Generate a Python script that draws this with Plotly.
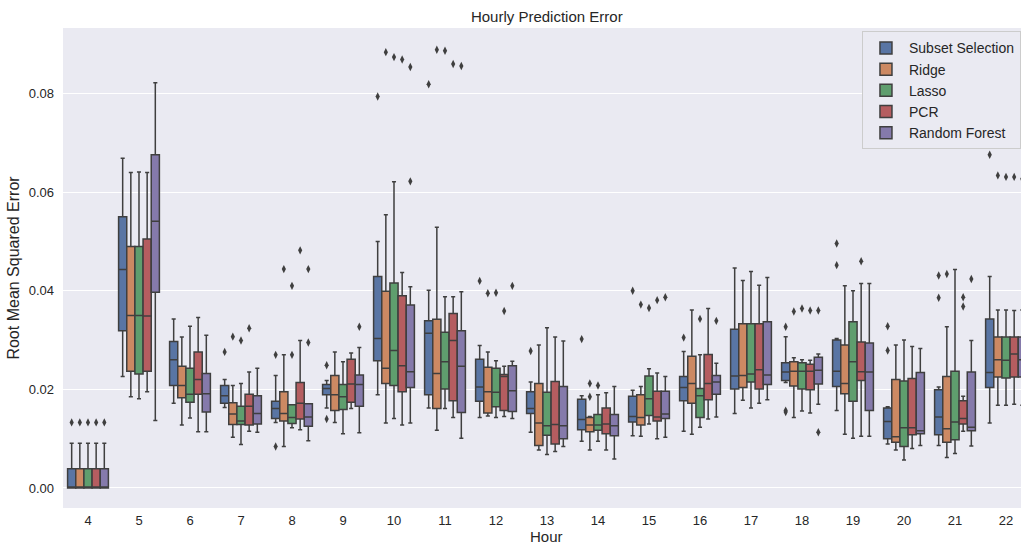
import plotly.graph_objects as go

hours = list(range(4, 23))
models = ["Subset Selection", "Ridge", "Lasso", "PCR", "Random Forest"]
colors = ["#5975A4", "#CC8963", "#5F9E6E", "#B55D60", "#857AAB"]

# per model, per hour: [lower whisker, q1, median, q3, upper whisker]
subset_stats = [
    [0, 0, 0, 0.0039, 0.00905], [0.0226, 0.0319, 0.0443, 0.0550, 0.0669],
    [0.0172, 0.0208, 0.0260, 0.0297, 0.0343], [0.0163, 0.0172, 0.0187, 0.0208, 0.0220],
    [0.0133, 0.0141, 0.0161, 0.0176, 0.0228], [0.0162, 0.0189, 0.0202, 0.0210, 0.0218],
    [0.0189, 0.0258, 0.0303, 0.0429, 0.0500], [0.0162, 0.0189, 0.0314, 0.0339, 0.0401],
    [0.0143, 0.0176, 0.0205, 0.0261, 0.0289], [0.0113, 0.0151, 0.0161, 0.0195, 0.0215],
    [0.0095, 0.0118, 0.0139, 0.0180, 0.0187], [0.0106, 0.0134, 0.0145, 0.0186, 0.0198],
    [0.0115, 0.0177, 0.0204, 0.0226, 0.0277], [0.0151, 0.0201, 0.0227, 0.0322, 0.0446],
    [0.0214, 0.0218, 0.0235, 0.0254, 0.0307], [0.0157, 0.0206, 0.0237, 0.0300, 0.0303],
    [0.0089, 0.0100, 0.0135, 0.0162, 0.0165], [0.0086, 0.0108, 0.0144, 0.0199, 0.0205],
    [0.0132, 0.0204, 0.0234, 0.0343, 0.0429],
]
ridge_stats = [
    [0, 0, 0, 0.0039, 0.00905], [0.0185, 0.0237, 0.0350, 0.0490, 0.0640],
    [0.0128, 0.0183, 0.0208, 0.0247, 0.0306], [0.0103, 0.0129, 0.0150, 0.0173, 0.0208],
    [0.0084, 0.0136, 0.0151, 0.0195, 0.0270], [0.0133, 0.0157, 0.0189, 0.0228, 0.0276],
    [0.0132, 0.0212, 0.0243, 0.0399, 0.0554], [0.0117, 0.0161, 0.0232, 0.0342, 0.0529],
    [0.0146, 0.0152, 0.0195, 0.0245, 0.0276], [0.0077, 0.0086, 0.0132, 0.0212, 0.0290],
    [0.0077, 0.0114, 0.0128, 0.0143, 0.0145], [0.0105, 0.0128, 0.0143, 0.0189, 0.0206],
    [0.0109, 0.0172, 0.0212, 0.0267, 0.0361], [0.0178, 0.0204, 0.0228, 0.0333, 0.0421],
    [0.0143, 0.0207, 0.0237, 0.0256, 0.0264], [0.0109, 0.0191, 0.0212, 0.0290, 0.0410],
    [0.0077, 0.0093, 0.0104, 0.0220, 0.0290], [0.0062, 0.0093, 0.0120, 0.0226, 0.0327],
    [0.0168, 0.0225, 0.0260, 0.0306, 0.0361],
]
lasso_stats = [
    [0, 0, 0, 0.0039, 0.00905], [0.0181, 0.0231, 0.0350, 0.0490, 0.0641],
    [0.0142, 0.0174, 0.0190, 0.0243, 0.0328], [0.0088, 0.0129, 0.0136, 0.0166, 0.0212],
    [0.0122, 0.0131, 0.0143, 0.0169, 0.0169], [0.0110, 0.0159, 0.0185, 0.0210, 0.0256],
    [0.0141, 0.0208, 0.0279, 0.0416, 0.0621], [0.0161, 0.0201, 0.0256, 0.0316, 0.0388],
    [0.0143, 0.0165, 0.0194, 0.0243, 0.0258], [0.0068, 0.0107, 0.0126, 0.0194, 0.0325],
    [0.0095, 0.0117, 0.0128, 0.0149, 0.0189], [0.0130, 0.0147, 0.0181, 0.0227, 0.0242],
    [0.0123, 0.0143, 0.0187, 0.0202, 0.0270], [0.0162, 0.0215, 0.0231, 0.0333, 0.0439],
    [0.0156, 0.0201, 0.0237, 0.0254, 0.0260], [0.0101, 0.0176, 0.0256, 0.0337, 0.0400],
    [0.0057, 0.0084, 0.0122, 0.0217, 0.0300], [0.0070, 0.0098, 0.0134, 0.0237, 0.0443],
    [0.0168, 0.0223, 0.0259, 0.0306, 0.0361],
]
pcr_stats = [
    [0, 0, 0, 0.0039, 0.00905], [0.0195, 0.0237, 0.0349, 0.0505, 0.0640],
    [0.0114, 0.0190, 0.0220, 0.0276, 0.0346], [0.0115, 0.0128, 0.0166, 0.0190, 0.0235],
    [0.0118, 0.0140, 0.0172, 0.0214, 0.0299], [0.0161, 0.0174, 0.0211, 0.0261, 0.0274],
    [0.0128, 0.0195, 0.0248, 0.0390, 0.0437], [0.0143, 0.0177, 0.0299, 0.0354, 0.0388],
    [0.0145, 0.0157, 0.0226, 0.0230, 0.0247], [0.0074, 0.0089, 0.0129, 0.0216, 0.0306],
    [0.0077, 0.0110, 0.0130, 0.0162, 0.0193], [0.0100, 0.0136, 0.0144, 0.0196, 0.0233],
    [0.0140, 0.0179, 0.0212, 0.0271, 0.0364], [0.0172, 0.0201, 0.0240, 0.0333, 0.0411],
    [0.0152, 0.0199, 0.0237, 0.0251, 0.0259], [0.0105, 0.0218, 0.0236, 0.0296, 0.0415],
    [0.0080, 0.0108, 0.0122, 0.0222, 0.0287], [0.0115, 0.0130, 0.0141, 0.0177, 0.0186],
    [0.0170, 0.0225, 0.0272, 0.0306, 0.0360],
]
rf_stats = [
    [0, 0, 0.0002, 0.0039, 0.00905], [0.0137, 0.0397, 0.0541, 0.0676, 0.0822],
    [0.0114, 0.0154, 0.0191, 0.0232, 0.0310], [0.0113, 0.0130, 0.0151, 0.0187, 0.0243],
    [0.0096, 0.0125, 0.0144, 0.0171, 0.0171], [0.0112, 0.0166, 0.0210, 0.0229, 0.0285],
    [0.0132, 0.0204, 0.0236, 0.0371, 0.0408], [0.0101, 0.0153, 0.0247, 0.0319, 0.0398],
    [0.0141, 0.0155, 0.0197, 0.0248, 0.0257], [0.0084, 0.0100, 0.0126, 0.0206, 0.0298],
    [0.0059, 0.0106, 0.0126, 0.0149, 0.0206], [0.0103, 0.0141, 0.0150, 0.0196, 0.0226],
    [0.0144, 0.0190, 0.0215, 0.0228, 0.0253], [0.0179, 0.0210, 0.0229, 0.0337, 0.0427],
    [0.0170, 0.0211, 0.0239, 0.0265, 0.0272], [0.0105, 0.0157, 0.0235, 0.0294, 0.0415],
    [0.0086, 0.0110, 0.0116, 0.0234, 0.0283], [0.0085, 0.0116, 0.0123, 0.0235, 0.0299],
    [0.0168, 0.0225, 0.0260, 0.0306, 0.0361],
]

# outliers: (hour, value)
subset_out = [(4, 0.0133), (7, 0.0276), (8, 0.0270), (8, 0.0084), (9, 0.0249), (9, 0.0140),
              (10, 0.0794), (11, 0.0819), (12, 0.0420), (13, 0.0278), (14, 0.0302), (15, 0.0400),
              (16, 0.0305), (18, 0.0327), (18, 0.0157), (18, 0.0154), (19, 0.0496), (19, 0.0452),
              (20, 0.0328), (20, 0.0279), (21, 0.0431), (21, 0.0386), (22, 0.0676)]
ridge_out = [(4, 0.0133), (7, 0.0307), (8, 0.0444), (10, 0.0884), (11, 0.0889), (12, 0.0395),
             (14, 0.0212), (14, 0.0185), (15, 0.0372), (18, 0.0358), (21, 0.0434), (22, 0.0634)]
lasso_out = [(4, 0.0133), (7, 0.0299), (8, 0.0410), (8, 0.0270), (10, 0.0874), (11, 0.0887),
             (12, 0.0396), (14, 0.0208), (15, 0.0365), (16, 0.0343), (18, 0.0364), (22, 0.0631)]
pcr_out = [(4, 0.0133), (7, 0.0324), (8, 0.0482), (10, 0.0869), (11, 0.0860), (12, 0.0359),
           (15, 0.0381), (18, 0.0360), (19, 0.0460), (21, 0.0387), (21, 0.0368), (22, 0.0631)]
rf_out = [(4, 0.0133), (8, 0.0444), (8, 0.0295), (9, 0.0327), (10, 0.0854), (10, 0.0622),
          (11, 0.0856), (12, 0.0410), (15, 0.0387), (16, 0.0339), (18, 0.0360), (18, 0.0113),
          (21, 0.0424), (22, 0.0627)]

all_stats = [subset_stats, ridge_stats, lasso_stats, pcr_stats, rf_stats]
all_out = [subset_out, ridge_out, lasso_out, pcr_out, rf_out]

group_width = 0.8
n = len(models)
bw = group_width / n
line_col = "#3f3f3f"
FONT = "Liberation Sans, Arial, sans-serif"

fig = go.Figure()
for i, (name, col, st, outs) in enumerate(zip(models, colors, all_stats, all_out)):
    off = -group_width / 2 + bw * (i + 0.5)
    xs = [h + off for h in hours]
    fig.add_trace(go.Box(
        name=name, x=xs,
        lowerfence=[s[0] for s in st], q1=[s[1] for s in st], median=[s[2] for s in st],
        q3=[s[3] for s in st], upperfence=[s[4] for s in st],
        width=bw, whiskerwidth=0.5, boxpoints=False,
        fillcolor=col, line=dict(color=line_col, width=1.5),
        legendgroup=name, hoverinfo="y",
    ))
    fig.add_trace(go.Scatter(
        x=[h + off for h, v in outs], y=[v for h, v in outs], mode="markers",
        marker=dict(symbol="diamond-tall", size=6, color=line_col),
        showlegend=False, legendgroup=name, hoverinfo="y",
    ))

fig.update_layout(
    width=1021, height=546,
    margin=dict(l=63, r=0, t=28, b=38),
    paper_bgcolor="white", plot_bgcolor="#EAEAF2",
    font=dict(family=FONT, size=13, color="#262626"),
    boxmode="overlay",
    title=dict(text="Hourly Prediction Error", xref="paper", x=0.505, xanchor="center",
               y=1 - 17 / 546, yanchor="middle", font=dict(size=15, color="#262626")),
    legend=dict(x=0.834, y=0.993, xanchor="left", yanchor="top",
                bgcolor="#EAEAF2", bordercolor="#cccccc", borderwidth=1,
                font=dict(size=14), tracegroupgap=0, itemwidth=36),
    showlegend=True,
    annotations=[dict(text="Hour", xref="paper", yref="paper", x=0.505, y=-0.0795,
                      xanchor="center", yanchor="bottom", showarrow=False, borderpad=0,
                      font=dict(size=15, color="#262626"))],
)
fig.update_xaxes(
    range=[3.51, 22.294], tickmode="array", tickvals=hours, ticktext=[str(h) for h in hours],
    showgrid=False, zeroline=False, showline=False, ticks="",
    ticklabelstandoff=3, tickfont=dict(size=13),
)
fig.update_yaxes(
    range=[-0.00406, 0.0933], tickvals=[0, 0.02, 0.04, 0.06, 0.08],
    ticktext=["0.00", "0.02", "0.04", "0.06", "0.08"],
    showgrid=True, gridcolor="white", gridwidth=1, zeroline=False, showline=False, ticks="",
    ticklabelstandoff=8, tickfont=dict(size=13),
    title=dict(text="Root Mean Squared Error", font=dict(size=16), standoff=5),
)

fig.write_html("out.html")
